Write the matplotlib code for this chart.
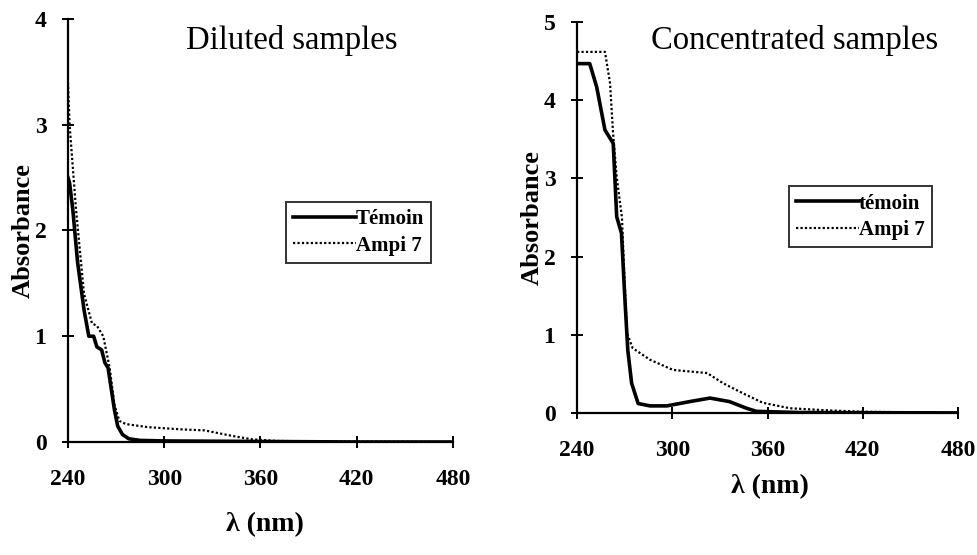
import matplotlib
matplotlib.use("Agg")
import matplotlib.pyplot as plt

plt.rcParams['font.family'] = ['Liberation Serif', 'DejaVu Serif']

# Diluted samples
dil_temoin_x = [240, 241, 243, 246, 250, 253, 256, 258, 261, 263, 265, 267, 269, 271, 274, 278, 285, 300, 360, 420, 480]
dil_temoin_y = [2.5, 2.45, 2.2, 1.7, 1.25, 1.0, 1.0, 0.9, 0.87, 0.75, 0.7, 0.5, 0.3, 0.15, 0.07, 0.03, 0.015, 0.01, 0.005, 0.0, 0.0]
dil_ampi_x = [240, 241, 245, 250, 255, 258, 262, 264, 266, 269, 272, 276, 290, 310, 325, 335, 345, 355, 370, 400, 480]
dil_ampi_y = [3.4, 3.0, 2.2, 1.4, 1.12, 1.1, 1.0, 0.85, 0.7, 0.35, 0.2, 0.17, 0.14, 0.12, 0.11, 0.08, 0.05, 0.025, 0.01, 0.005, 0.0]

# Concentrated samples
con_temoin_x = [240, 248, 252.4, 257.6, 262.8, 265, 268, 270.2, 272, 274.4, 278.5, 286, 296.6, 311, 323.8, 336, 346.7, 353, 380, 480]
con_temoin_y = [4.47, 4.47, 4.17, 3.62, 3.45, 2.51, 2.3, 1.44, 0.8, 0.38, 0.12, 0.09, 0.09, 0.145, 0.19, 0.145, 0.06, 0.02, 0.005, 0.0]
con_ampi_x = [240, 257.6, 260.8, 262.7, 265, 268.3, 270, 271.5, 275, 286, 300.5, 322, 332, 344.6, 357, 374, 396, 420, 480]
con_ampi_y = [4.62, 4.62, 4.22, 3.58, 3.02, 2.5, 1.66, 1.02, 0.83, 0.68, 0.55, 0.51, 0.38, 0.25, 0.13, 0.06, 0.035, 0.015, 0.0]

x_ticks = [240, 300, 360, 420, 480]

fig = plt.figure(figsize=(9.78, 5.55), dpi=100)
ax1 = fig.add_axes([0.0695, 0.2036, 0.3937, 0.7622])
ax2 = fig.add_axes([0.590, 0.256, 0.3896, 0.704])

def style(ax, ymax, title, title_x, title_y, xlab_pos, ylab_pos):
    ax.set_xlim(240, 480)
    ax.set_ylim(0, ymax)
    ax.set_xticks(x_ticks)
    ax.set_yticks(range(0, ymax + 1))
    for s in ['top', 'right']:
        ax.spines[s].set_visible(False)
    for s in ['left', 'bottom']:
        ax.spines[s].set_linewidth(1.6)
    ax.tick_params(direction='inout', length=9, width=1.4, labelsize=17)
    ax.tick_params(axis='x', pad=15)
    ax.tick_params(axis='y', pad=11)
    for lab in ax.get_xticklabels() + ax.get_yticklabels():
        lab.set_fontweight('bold')
    ax.set_xlabel('λ (nm)', fontsize=20, fontweight='bold')
    ax.set_ylabel('Absorbance', fontsize=19, fontweight='bold')
    ax.xaxis.label.set_verticalalignment('center')
    ax.yaxis.label.set_verticalalignment('center')
    ax.xaxis.set_label_coords(*xlab_pos)
    ax.yaxis.set_label_coords(*ylab_pos)
    ax.text(title_x, title_y, title, transform=ax.transAxes, ha='center', va='center', fontsize=23.5)
    ax.patch.set_alpha(0)

def legend(ax, anchor):
    leg = ax.legend(loc='upper left', bbox_to_anchor=anchor, borderaxespad=0, fontsize=15, frameon=True,
                    fancybox=False, edgecolor='black', handlelength=3.0, handletextpad=0.0,
                    borderpad=0.35, labelspacing=0.3)
    leg.get_frame().set_linewidth(1.4)
    for t in leg.get_texts():
        t.set_fontweight('bold')

ax1.plot(dil_temoin_x, dil_temoin_y, color='black', lw=2.6, ls='-', label='Témoin')
ax1.plot(dil_ampi_x, dil_ampi_y, color='black', lw=1.6, ls=(0, (1, 1)), label='Ampi 7')
style(ax1, 4, 'Diluted samples', 0.58, 0.95, (0.512, -0.196), (-0.117, 0.5))
legend(ax1, (0.566, 0.567))

ax2.plot(con_temoin_x, con_temoin_y, color='black', lw=2.6, ls='-', label='témoin')
ax2.plot(con_ampi_x, con_ampi_y, color='black', lw=1.6, ls=(0, (1, 1)), label='Ampi 7')
style(ax2, 5, 'Concentrated samples', 0.57, 0.954, (0.507, -0.189), (-0.118, 0.5))
legend(ax2, (0.556, 0.58))

fig.savefig('out.png', dpi=100, facecolor='white')
